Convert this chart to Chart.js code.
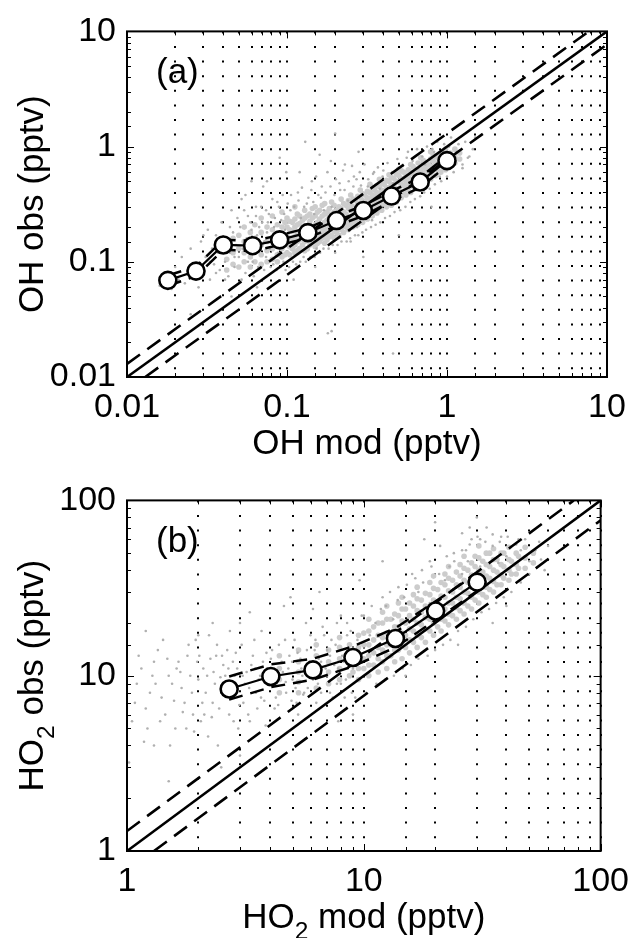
<!DOCTYPE html>
<html>
<head>
<meta charset="utf-8">
<script src="https://cdn.jsdelivr.net/npm/chart.js@4"></script>
<style>
  body { margin: 0; background: #fff; }
  canvas { display: block; }
</style>
</head>
<body>
<canvas id="ohChart" width="639" height="469"></canvas>
<canvas id="ho2Chart" width="639" height="469"></canvas>
<script>
// ---- panel (a): OH ----
const ohTicks = [0.01, 0.1, 1, 10];
const ohMod = [0.018, 0.027, 0.040, 0.061, 0.090, 0.135, 0.204, 0.30, 0.45, 0.68, 1.0];
const ohObs = [0.069, 0.083, 0.14, 0.138, 0.155, 0.179, 0.228, 0.279, 0.372, 0.493, 0.755];
const ohObsHi = [0.076, 0.091, 0.155, 0.152, 0.17, 0.197, 0.25, 0.307, 0.41, 0.54, 0.83];
const ohObsLo = [0.062, 0.075, 0.127, 0.124, 0.14, 0.161, 0.205, 0.251, 0.335, 0.444, 0.68];
const ohOneX = [0.01, 10];
const ohUpX = [0.01, 7.7], ohUpY = [0.013, 10];
const ohLoX = [0.013, 10], ohLoY = [0.01, 7.7];
// gray cloud: scattered points
const ohCloud = [
  [0.016,0.062],[0.017,0.075],[0.019,0.058],[0.02,0.09],[0.021,0.07],[0.022,0.11],[0.023,0.065],[0.024,0.085],
  [0.025,0.13],[0.026,0.072],[0.027,0.095],[0.028,0.06],[0.029,0.15],[0.03,0.08],[0.031,0.11],[0.032,0.19],
  [0.033,0.07],[0.034,0.13],[0.035,0.095],[0.036,0.17],[0.037,0.12],[0.038,0.085],[0.039,0.22],[0.04,0.14],
  [0.041,0.1],[0.042,0.16],[0.043,0.075],[0.044,0.12],[0.045,0.28],[0.046,0.18],[0.047,0.09],[0.048,0.14],
  [0.05,0.11],[0.051,0.2],[0.052,0.35],[0.053,0.13],[0.055,0.08],[0.056,0.16],[0.057,0.25],[0.058,0.12],
  [0.06,0.19],[0.061,0.1],[0.062,0.14],[0.064,0.3],[0.065,0.17],[0.066,0.09],[0.068,0.13],[0.07,0.22],
  [0.071,0.45],[0.072,0.15],[0.074,0.11],[0.075,0.18],[0.077,0.26],[0.078,0.13],[0.08,0.16],[0.082,0.095],
  [0.083,0.2],[0.085,0.14],[0.087,0.33],[0.088,0.12],[0.09,0.17],[0.092,0.23],[0.094,0.15],[0.095,0.1],
  [0.097,0.19],[0.099,0.6],[0.105,0.28],[0.117,0.4],[0.122,0.24],[0.127,0.11],[0.133,0.32],[0.143,0.5],
  [0.148,0.26],[0.153,0.13],[0.163,0.36],[0.17,0.28],[0.188,0.75],[0.19,0.3],[0.215,0.42],[0.24,0.34],
  [0.262,0.55],[0.274,0.2],[0.28,0.36],[0.32,0.45],[0.34,0.23],[0.38,0.43],[0.4,0.62],[0.46,0.48],
  [0.56,0.8],[0.6,0.4],[0.66,0.65],[0.7,0.42],[0.73,0.7],[0.83,0.9],[0.9,0.55],[1.03,1.0],[1.15,0.9],
  [1.3,1.1],[1.45,0.95],[1.25,0.7],[1.38,0.82],
  [0.13,1.1],[0.09,0.8],[0.2,1.3],[0.06,0.5],[0.3,0.11],[0.5,0.17],[0.8,0.3],[0.025,0.035],
  [0.18,0.024],[0.46,0.016],[0.19,0.025],[0.11,0.07],[0.15,0.09],[0.2,0.12],[0.25,0.15],[0.12,0.6],
  [0.16,0.85],[0.23,0.7],[0.28,0.9],[0.35,0.6],[0.075,0.5],[0.055,0.38],[0.045,0.05],[0.065,0.06],
  [0.03,0.17],[0.033,0.1],[0.036,0.08],[0.039,0.16],[0.041,0.07],[0.044,0.2],[0.047,0.11],[0.049,0.24],
  [0.052,0.07],[0.054,0.28],[0.057,0.1],[0.059,0.22],[0.062,0.075],[0.064,0.25],[0.067,0.2],[0.069,0.3],
  [0.072,0.085],[0.074,0.28],[0.076,0.22],[0.079,0.09],[0.081,0.35],[0.084,0.24],[0.086,0.085],[0.089,0.3],
  [0.091,0.09],[0.094,0.38],[0.096,0.26],[0.098,0.085],
  [0.101,0.32],[0.103,0.09],[0.106,0.38],[0.109,0.1],[0.111,0.3],[0.114,0.095],[0.118,0.34],[0.121,0.1],
  [0.124,0.44],[0.128,0.3],[0.131,0.1],[0.136,0.36],[0.14,0.11],[0.142,0.42],[0.146,0.33],[0.149,0.11],
  [0.152,0.55],[0.157,0.38],[0.161,0.12],[0.165,0.45],[0.169,0.13],[0.174,0.4],[0.179,0.6],[0.182,0.13],
  [0.187,0.45],[0.193,0.14],[0.198,0.38],[0.202,0.52],[0.207,0.14],[0.213,0.48],[0.219,0.15],[0.224,0.62],
  [0.229,0.42],[0.236,0.15],[0.243,0.5],[0.248,0.16],[0.255,0.68],[0.26,0.45],[0.266,0.17],[0.272,0.52],
  [0.279,0.17],[0.285,0.6],[0.29,0.46],[0.296,0.18],
  [0.305,0.7],[0.312,0.19],[0.322,0.52],[0.335,0.2],[0.345,0.58],[0.358,0.21],[0.37,0.66],[0.383,0.22],
  [0.396,0.55],[0.41,0.24],[0.425,0.72],[0.44,0.25],[0.455,0.6],[0.47,0.27],[0.49,0.78],[0.51,0.28],
  [0.53,0.68],[0.55,0.3],[0.57,0.9],[0.59,0.33],[0.61,0.75],[0.63,0.35],[0.65,0.95],[0.68,0.37],
  [0.7,0.82],[0.72,0.4],[0.75,1.0],[0.78,0.43],[0.81,0.95],[0.84,0.47],[0.87,1.1],[0.92,0.5],
  [0.96,1.05],[1.0,0.55],[1.06,1.2],[1.1,0.6],[1.18,1.05],[1.25,0.65],[1.35,0.8],[1.5,1.2]
];
// dense part of the cloud
const ohCore = [
  [0.042,0.085],[0.042,0.105],[0.042,0.13],[0.046,0.095],[0.046,0.12],[0.046,0.16],[0.05,0.09],[0.05,0.13],
  [0.05,0.17],[0.054,0.1],[0.054,0.12],[0.054,0.15],[0.054,0.2],[0.059,0.09],[0.059,0.11],[0.059,0.14],
  [0.059,0.18],[0.063,0.1],[0.063,0.125],[0.063,0.16],[0.063,0.21],[0.069,0.095],[0.069,0.115],[0.069,0.14],
  [0.069,0.18],[0.069,0.24],[0.075,0.1],[0.075,0.125],[0.075,0.15],[0.075,0.2],[0.081,0.105],[0.081,0.13],
  [0.081,0.16],[0.081,0.19],[0.081,0.25],[0.087,0.1],[0.087,0.115],[0.087,0.14],[0.087,0.17],[0.087,0.21],
  [0.093,0.11],[0.093,0.13],[0.093,0.16],[0.093,0.2],[0.093,0.27],[0.097,0.115],[0.097,0.14],[0.097,0.165],
  [0.097,0.22],
  [0.1,0.12],[0.1,0.145],[0.1,0.17],[0.1,0.2],[0.1,0.24],[0.104,0.115],[0.104,0.135],[0.104,0.16],
  [0.104,0.19],[0.104,0.225],[0.108,0.13],[0.108,0.155],[0.108,0.185],[0.108,0.22],[0.112,0.12],[0.112,0.14],
  [0.112,0.165],[0.112,0.2],[0.112,0.235],[0.112,0.3],[0.116,0.125],[0.116,0.15],[0.116,0.175],[0.116,0.21],
  [0.116,0.26],[0.12,0.13],[0.12,0.155],[0.12,0.18],[0.12,0.215],[0.12,0.25],[0.125,0.14],[0.125,0.165],
  [0.125,0.19],[0.125,0.23],[0.129,0.125],[0.129,0.15],[0.129,0.175],[0.129,0.205],[0.129,0.24],[0.129,0.28],
  [0.134,0.13],[0.134,0.155],[0.134,0.18],[0.134,0.205],[0.134,0.25],[0.139,0.14],[0.139,0.165],[0.139,0.19],
  [0.139,0.225],[0.139,0.26],[0.144,0.15],[0.144,0.175],[0.144,0.2],[0.144,0.24],[0.144,0.29],[0.15,0.135],
  [0.15,0.16],[0.15,0.185],[0.15,0.21],[0.15,0.25],[0.15,0.3],[0.155,0.145],[0.155,0.17],[0.155,0.195],
  [0.155,0.22],[0.155,0.27],[0.16,0.15],[0.16,0.175],[0.16,0.2],[0.16,0.235],[0.16,0.28],[0.166,0.16],
  [0.166,0.185],[0.166,0.21],[0.166,0.25],[0.166,0.31],[0.172,0.145],[0.172,0.17],[0.172,0.195],[0.172,0.22],
  [0.172,0.26],[0.172,0.32],[0.178,0.155],[0.178,0.18],[0.178,0.205],[0.178,0.23],[0.178,0.27],[0.184,0.165],
  [0.184,0.19],[0.184,0.215],[0.184,0.245],[0.184,0.29],[0.19,0.17],[0.19,0.195],[0.19,0.22],[0.19,0.26],
  [0.19,0.33],[0.197,0.16],[0.197,0.185],[0.197,0.205],[0.197,0.235],[0.197,0.27],[0.197,0.31],[0.204,0.18],
  [0.204,0.21],[0.204,0.24],[0.204,0.28],[0.211,0.17],[0.211,0.195],[0.211,0.225],[0.211,0.26],[0.211,0.3],
  [0.218,0.19],[0.218,0.22],[0.218,0.25],[0.218,0.29],[0.218,0.35],[0.226,0.18],[0.226,0.205],[0.226,0.235],
  [0.226,0.27],[0.226,0.32],[0.234,0.2],[0.234,0.23],[0.234,0.26],[0.234,0.31],[0.242,0.19],[0.242,0.215],
  [0.242,0.245],[0.242,0.29],[0.242,0.34],[0.25,0.21],[0.25,0.24],[0.25,0.28],[0.25,0.32],[0.25,0.38],
  [0.259,0.2],[0.259,0.23],[0.259,0.265],[0.259,0.3],[0.259,0.35],[0.268,0.22],[0.268,0.255],[0.268,0.29],
  [0.268,0.34],[0.277,0.21],[0.277,0.24],[0.277,0.275],[0.277,0.32],[0.277,0.37],[0.287,0.235],[0.287,0.27],
  [0.287,0.31],[0.287,0.36],[0.287,0.42],[0.297,0.22],[0.297,0.255],[0.297,0.29],[0.297,0.34],[0.297,0.39],
  [0.307,0.25],[0.307,0.29],[0.307,0.33],[0.307,0.38],[0.318,0.235],[0.318,0.27],[0.318,0.31],[0.318,0.36],
  [0.318,0.41],[0.33,0.26],[0.33,0.3],[0.33,0.35],[0.33,0.4],[0.33,0.47],[0.341,0.25],[0.341,0.285],
  [0.341,0.33],[0.341,0.38],[0.341,0.44],[0.353,0.28],[0.353,0.32],[0.353,0.37],[0.353,0.42],[0.365,0.265],
  [0.365,0.3],[0.365,0.345],[0.365,0.4],[0.365,0.46],[0.378,0.3],[0.378,0.34],[0.378,0.39],[0.378,0.45],
  [0.378,0.52],[0.391,0.28],[0.391,0.32],[0.391,0.365],[0.391,0.42],[0.391,0.48],[0.405,0.32],[0.405,0.36],
  [0.405,0.41],[0.405,0.47],[0.419,0.3],[0.419,0.34],[0.419,0.39],[0.419,0.44],[0.419,0.51],[0.434,0.33],
  [0.434,0.38],[0.434,0.44],[0.434,0.5],[0.434,0.57],[0.449,0.31],[0.449,0.355],[0.449,0.41],[0.449,0.47],
  [0.449,0.54],[0.465,0.35],[0.465,0.4],[0.465,0.46],[0.465,0.53],[0.482,0.33],[0.482,0.38],[0.482,0.43],
  [0.482,0.5],[0.482,0.58],[0.5,0.37],[0.5,0.43],[0.5,0.49],[0.5,0.56],[0.5,0.64],[0.517,0.36],[0.517,0.41],
  [0.517,0.47],[0.517,0.53],[0.517,0.62],[0.535,0.4],[0.535,0.46],[0.535,0.52],[0.535,0.6],[0.554,0.38],
  [0.554,0.44],[0.554,0.5],[0.554,0.57],[0.573,0.42],[0.573,0.48],[0.573,0.55],[0.573,0.63],[0.593,0.4],
  [0.593,0.46],[0.593,0.52],[0.593,0.6],[0.593,0.7],[0.614,0.45],[0.614,0.51],[0.614,0.58],[0.614,0.67],
  [0.636,0.43],[0.636,0.49],[0.636,0.56],[0.636,0.64],[0.66,0.48],[0.66,0.55],[0.66,0.62],[0.66,0.72],
  [0.685,0.46],[0.685,0.52],[0.685,0.6],[0.685,0.68],[0.685,0.8],[0.71,0.5],[0.71,0.58],[0.71,0.66],
  [0.71,0.76],[0.735,0.49],[0.735,0.56],[0.735,0.64],[0.735,0.72],[0.76,0.54],[0.76,0.62],[0.76,0.7],
  [0.79,0.52],[0.79,0.6],[0.79,0.68],[0.79,0.78],[0.79,0.9],[0.82,0.57],[0.82,0.66],[0.82,0.75],[0.82,0.85],
  [0.85,0.56],[0.85,0.64],[0.85,0.72],[0.85,0.82],[0.88,0.62],[0.88,0.7],[0.88,0.8],[0.915,0.6],[0.915,0.68],
  [0.915,0.76],[0.915,0.86],[0.95,0.66],[0.95,0.75],[0.95,0.88],[0.98,0.63],[0.98,0.72],[0.98,0.82],
  [0.98,0.95],[1.05,0.68],[1.05,0.78],[1.05,0.88],[1.12,0.72],[1.12,0.82],[1.12,0.95],[1.2,0.78],[1.2,0.88]
];

// ---- panel (b): HO2 ----
const ho2Ticks = [1, 10, 100];
const ho2Mod = [2.7, 4.05, 6.1, 9.0, 13.6, 20.1, 30.1];
const ho2Obs = [8.4, 9.9, 10.8, 12.7, 16.3, 23.4, 34.2];
const ho2ObsHi = [9.9, 11.6, 12.5, 14.7, 18.7, 26.6, 38.3];
const ho2ObsLo = [7.3, 8.6, 9.5, 11.3, 14.5, 20.8, 30.4];
const ho2OneX = [1, 100];
const ho2UpX = [1, 77], ho2UpY = [1.3, 100];
const ho2LoX = [1.3, 100], ho2LoY = [1, 77];
const ho2Cloud = [
  [1.1,9],[1.2,6.5],[1.3,12],[1.4,7.5],[1.5,10],[1.6,5],[1.7,8.5],[1.8,13],[1.9,6],[2.0,9.5],[2.1,11],
  [2.2,4.5],[2.3,7],[2.4,15],[2.5,8],[2.6,10],[2.7,6],[2.8,12],[2.9,8.8],[3.0,20],[3.1,7],[3.2,10.5],
  [3.3,5.5],[3.4,13],[3.5,8],[3.6,9.5],[3.7,18],[3.8,7.2],[3.9,11],[4.0,8.8],[4.1,14],[4.2,6.5],[4.3,10],
  [4.5,12],[4.6,25],[4.7,8],[4.8,11],[5.0,9.5],[5.1,16],[5.2,7],[5.4,12.5],[5.5,10],[5.7,20],[5.8,8.5],
  [6.0,11.5],[6.2,14],[6.4,9],[6.5,30],[6.6,12],[6.8,17],[7.0,10],[7.2,13],[7.4,7.5],[7.6,15],[7.8,11],
  [8.0,22],[8.2,12],[8.4,9.5],[8.6,14],[8.8,18],[9.0,11],[9.4,16],[9.6,35],[10.6,17],[11.2,20],
  [12.4,25],[13.3,21],[14.8,28],[17.6,40],[19,26],[22,35],[24,50],[26,38],[27.5,45],[28.5,60],[30,80],
  [31,42],[35,55],[37,44],[40,48],[46,52],[50,45],[55,58],
  [12,45],[15,10],[25,15],[40,25],[3,3.5],[9,6],[18,60],[2,17],[1.3,4],[28,70],[35,20],
  [1.05,5.5],[1.15,11],[1.25,8],[1.35,14],[1.45,6],[1.55,9],[1.65,12],[1.75,7],[1.85,10],[1.95,16],
  [2.05,5.5],[2.15,8],[2.25,12.5],[2.35,9],[2.45,6.5],[2.55,11.5],[2.65,14],[2.75,7.5],[2.85,10],[2.95,5],
  [3.15,9],[3.35,11.5],[3.55,6.5],[3.75,12],[3.95,9.5],[4.25,7.5],[4.55,10.5],[4.85,13],[5.15,8.5],
  [5.45,11],[5.75,14],[6.1,9.5],[6.45,12.5],[6.9,11],[7.3,16],[7.7,9],[8.1,13],[8.5,17],[8.9,8],
  [1.08,7],[1.18,4.2],[1.28,10],[1.38,5.5],[1.48,12.5],[1.58,7.2],[1.68,10.5],[1.78,5],[1.88,8],[1.98,12],
  [2.08,7],[2.18,10],[2.28,5.8],[2.38,13],[2.48,9.8],[2.58,7.8],[2.68,11],[2.78,9],[2.88,13.5],[2.98,6.8],
  [3.08,10],[3.28,8.5],[3.48,11],[3.68,7.5],[3.88,13.5],[4.08,10.5],[4.38,15],[4.68,9.2],[4.98,12],
  [5.28,6],[5.6,8],[5.95,17],[6.3,7],[6.7,19],[7.2,8],[7.7,20],[8.3,7.5],
  [14,32],[16,38],[19,45],[21,55],[23,42],[26,65],[27,52],[31,60],[33,70],[20,75],[17,30],[12,28],
  [10,22],[38,62],[45,60],
  [8.5,20],[9.2,7.5],[9.8,22],[10.2,8],[10.8,25],[11.3,9],[11.8,24],[12.3,9.5],[12.9,30],[13.4,10],
  [13.9,27],[14.6,11],[15.2,33],[15.8,11.5],[16.5,36],[17,12.5],[17.8,34],[18.6,13],[19.3,42],[20,14],
  [20.8,38],[21.6,15],[22.4,48],[23.2,16],[24.1,45],[25,18],[26,52],[27,19],[28,56],[29,21],[30.2,62],
  [31.4,23],[32.6,58],[33.8,24],[35,64],[36.2,26],[37.5,58],[39,28],[40.5,62],[42,30],[44,56],[46,34],
  [48,60],[50,38],[53,52],[56,46],[60,55],[58,40],
  [1.02,3.2],[1.12,13],[1.22,5],[1.32,9],[1.42,16],[1.52,4],[1.62,11],[1.72,6.2],[1.82,15],[1.92,4.8],
  [2.02,13],[2.12,6],[2.22,17],[2.32,10.5],[2.42,4],[2.52,13],[2.62,8.5],[2.72,18],[2.82,5.5],[2.92,11],
  [3.05,15],[3.25,6],[3.45,16],[3.65,10],[3.85,5.2],[4.05,12.5],[4.35,6.8],[4.65,16],[4.95,7.2],
  [5.25,13.5],[5.55,7.8],[5.9,12],[6.25,16],[6.6,8],[7,14],[7.5,11.5],[8,9],[8.6,12.5],[3.3,23],[4.9,28],
  [2.3,20],[6.1,24],[1.5,2.5],[2.5,3],[1.2,18],[7.8,5.5]
];
const ho2Core = [
  [4.4,8],[4.4,9.5],[4.4,11],[4.4,13],[5.3,8],[5.3,9.2],[5.3,10.5],[5.3,12],[5.3,14],[6.3,8.5],[6.3,10],
  [6.3,11.5],[6.3,13],[6.3,15],[7.1,9],[7.1,10.5],[7.1,12],[7.1,14],[7.9,9.5],[7.9,11],[7.9,12.5],
  [7.9,14.5],[7.9,16.5],[8.7,10],[8.7,11.5],[8.7,13],[8.7,15],
  [9,10.5],[9,12],[9,14],[9.5,9.5],[9.5,11],[9.5,12.5],[9.5,14.5],[9.5,17],[10,11],[10,12.5],[10,15],
  [10,17.5],[10.5,10],[10.5,11.5],[10.5,13],[10.5,15],[10.5,18],[10.5,21],[11,11.5],[11,13.5],[11,16],
  [11,19],[11.5,10.5],[11.5,12.5],[11.5,14.5],[11.5,17],[11.5,20],[12,12],[12,14],[12,16.5],[12,20],
  [12,23],[12.5,11],[12.5,13],[12.5,15],[12.5,17.5],[12.5,21],[12.5,25],[13,13],[13,15],[13,17.5],
  [13,21],[13.5,12],[13.5,14],[13.5,16],[13.5,19],[13.5,22.5],[14,14],[14,16],[14,19],[14,22],[14,26],
  [14.5,12.5],[14.5,15],[14.5,17.5],[14.5,20.5],[14.5,24],[14.5,28],[15,14.5],[15,17],[15,20],[15,24],
  [15.6,13.5],[15.6,16],[15.6,18.5],[15.6,22],[15.6,26],[16.2,15.5],[16.2,18],[16.2,21],[16.2,25],
  [16.2,29],[16.8,14.5],[16.8,17],[16.8,20],[16.8,23.5],[16.8,27.5],[16.8,32],[17.5,16.5],[17.5,19.5],
  [17.5,23],[17.5,27],[18.2,15.5],[18.2,18.5],[18.2,21.5],[18.2,25],[18.2,29.5],[19,18],[19,21],[19,25],
  [19,29],[19,34],[19.7,17],[19.7,20],[19.7,23],[19.7,27],[19.7,31.5],[19.7,37],[20.5,19],[20.5,22.5],
  [20.5,26.5],[20.5,31],[21.2,18],[21.2,21],[21.2,24.5],[21.2,28.5],[21.2,34],[22,20.5],[22,24],[22,28],
  [22,33],[22,38],[22.8,19.5],[22.8,22.5],[22.8,26],[22.8,30.5],[22.8,36],[22.8,42],[23.7,22],[23.7,26],
  [23.7,30],[23.7,35],[24.6,21],[24.6,24.5],[24.6,28],[24.6,33],[24.6,39],[25.5,23.5],[25.5,27.5],
  [25.5,32],[25.5,37],[25.5,43],[26.5,22.5],[26.5,26],[26.5,30],[26.5,35],[26.5,41],[26.5,48],[27.5,25],
  [27.5,29.5],[27.5,34],[27.5,40],[28.5,24],[28.5,28],[28.5,32],[28.5,37.5],[28.5,44],[29.5,27],
  [29.5,31.5],[29.5,36],[29.5,42],[29.5,48],[30.6,26],[30.6,30],[30.6,34.5],[30.6,40],[30.6,47],
  [30.6,55],[31.8,29],[31.8,34],[31.8,39],[31.8,45],[32.9,28],[32.9,32],[32.9,37],[32.9,43],[32.9,50],
  [34,31],[34,36],[34,42],[34,50],[35.3,30],[35.3,34.5],[35.3,40],[35.3,46],[35.3,53],[36.5,33],
  [36.5,39],[36.5,46],[38,33],[38,37.5],[38,43],[38,50],[39,36],[39,42],[39,50],[41,35],[41,40],[41,46],
  [41,54],[42,38],[42,45],[44,38],[44,43],[44,50],[45,41],[45,48],[48,41],[48,47],[48,54],[52,44],[52,50]
];

const FONT = "'Liberation Sans', Arial, Helvetica, sans-serif";
const TICK_FONT = 34, TITLE_FONT = 35;

function pts(xs, ys) { return xs.map((x, i) => ({ x: x, y: ys[i] })); }
function pairs(list) { return list.map(c => ({ x: c[0], y: c[1] })); }
function isMajor(v, list) { return list.some(t => Math.abs(Math.log10(v) - Math.log10(t)) < 1e-6); }

function drawParts(ctx, parts, cx, cy, rotate) {
  ctx.save();
  ctx.translate(cx, cy);
  if (rotate) ctx.rotate(-Math.PI / 2);
  ctx.textBaseline = 'middle';
  ctx.textAlign = 'left';
  ctx.fillStyle = '#000';
  let w = 0;
  parts.forEach(p => {
    ctx.font = (p.sub ? TITLE_FONT * 0.7 : TITLE_FONT) + 'px ' + FONT;
    w += ctx.measureText(p.t).width;
  });
  let x = -w / 2;
  parts.forEach(p => {
    ctx.font = (p.sub ? TITLE_FONT * 0.7 : TITLE_FONT) + 'px ' + FONT;
    ctx.fillText(p.t, x, p.sub ? TITLE_FONT * 0.4 : 0);
    x += ctx.measureText(p.t).width;
  });
  ctx.restore();
}

// box, inward ticks, titles and panel letter
const framePlugin = {
  id: 'frame',
  afterDraw(chart, args, o) {
    const { ctx, chartArea: a, scales } = chart;
    ctx.save();
    ctx.strokeStyle = '#000';
    ctx.lineWidth = 1;
    ctx.beginPath();
    scales.x.ticks.forEach(t => {
      const len = isMajor(t.value, o.ticks) ? 7 : 4;
      const px = Math.round(scales.x.getPixelForValue(t.value)) + 0.5;
      ctx.moveTo(px, a.bottom); ctx.lineTo(px, a.bottom - len);
      ctx.moveTo(px, a.top); ctx.lineTo(px, a.top + len);
    });
    scales.y.ticks.forEach(t => {
      const len = isMajor(t.value, o.ticks) ? 7 : 4;
      const py = Math.round(scales.y.getPixelForValue(t.value)) + 0.5;
      ctx.moveTo(a.left, py); ctx.lineTo(a.left + len, py);
      ctx.moveTo(a.right, py); ctx.lineTo(a.right - len, py);
    });
    ctx.stroke();
    ctx.lineWidth = 2;
    ctx.strokeRect(a.left, a.top, a.right - a.left, a.bottom - a.top);
    ctx.restore();

    drawParts(ctx, o.xTitle, (a.left + a.right) / 2, a.bottom + o.xTitleGap, false);
    drawParts(ctx, o.yTitle, o.yTitleX, (a.top + a.bottom) / 2, true);
    ctx.save();
    ctx.font = TITLE_FONT + 'px ' + FONT;
    ctx.fillStyle = '#000';
    ctx.textBaseline = 'middle';
    ctx.fillText(o.letter, a.left + 29, a.top + 42);
    ctx.restore();
  }
};

function makePanel(id, p) {
  const axis = (min, max, ticks, isX) => ({
    type: 'logarithmic',
    min: min, max: max,
    grid: { display: isX, color: '#000', lineWidth: 2, drawTicks: false },
    border: { display: false, dash: [2, 12.6] },
    ticks: {
      color: '#000',
      font: { family: FONT, size: TICK_FONT },
      padding: isX ? 10 : 11,
      autoSkip: false,
      maxRotation: 0,
      callback: v => isMajor(v, ticks) ? String(ticks.find(t => isMajor(v, [t]))) : ''
    },
    afterFit: s => { if (isX) s.height = p.xHeight; else s.width = 127; }
  });
  return new Chart(document.getElementById(id), {
    type: 'scatter',
    data: {
      datasets: [
        { data: pts(p.mod, p.obs), showLine: true, borderColor: '#000', borderWidth: 2.2,
          pointRadius: 8.5, pointBackgroundColor: '#fff', pointBorderColor: '#000', pointBorderWidth: 2.6 },
        { data: pts(p.mod, p.hi), showLine: true, borderColor: '#000', borderWidth: 2.5,
          borderDash: [14, 8], pointRadius: 0 },
        { data: pts(p.mod, p.lo), showLine: true, borderColor: '#000', borderWidth: 2.5,
          borderDash: [14, 8], pointRadius: 0 },
        { data: pts(p.oneX, p.oneX), showLine: true, borderColor: '#000', borderWidth: 2.6, pointRadius: 0 },
        { data: pts(p.upX, p.upY), showLine: true, borderColor: '#000', borderWidth: 2.6,
          borderDash: [16, 9], pointRadius: 0 },
        { data: pts(p.loX, p.loY), showLine: true, borderColor: '#000', borderWidth: 2.6,
          borderDash: [16, 9], pointRadius: 0 },
        { data: pairs(p.cloud), pointRadius: 1.3, pointBackgroundColor: '#b0b0b0', pointBorderWidth: 0 },
        { data: pairs(p.core), pointRadius: 2.8, pointBackgroundColor: '#cccccc', pointBorderWidth: 0 }
      ]
    },
    options: {
      responsive: false,
      animation: false,
      events: [],
      layout: { padding: { left: 0, right: 32, top: p.top, bottom: 0 } },
      plugins: { legend: { display: false }, tooltip: { enabled: false }, frame: p.frame },
      scales: {
        x: axis(p.xMin, p.xMax, p.ticks, true),
        y: axis(p.yMin, p.yMax, p.ticks, false)
      }
    },
    plugins: [framePlugin]
  });
}

makePanel('ohChart', {
  mod: ohMod, obs: ohObs, hi: ohObsHi, lo: ohObsLo, oneX: ohOneX,
  upX: ohUpX, upY: ohUpY, loX: ohLoX, loY: ohLoY, cloud: ohCloud, core: ohCore, ticks: ohTicks,
  xMin: 0.01, xMax: 10, yMin: 0.01, yMax: 10, top: 25, xHeight: 92,
  frame: {
    ticks: ohTicks, letter: '(a)', xTitleGap: 67, yTitleX: 33,
    xTitle: [{ t: 'OH mod (pptv)' }],
    yTitle: [{ t: 'OH obs (pptv)' }]
  }
});

makePanel('ho2Chart', {
  mod: ho2Mod, obs: ho2Obs, hi: ho2ObsHi, lo: ho2ObsLo, oneX: ho2OneX,
  upX: ho2UpX, upY: ho2UpY, loX: ho2LoX, loY: ho2LoY, cloud: ho2Cloud, core: ho2Core, ticks: ho2Ticks,
  xMin: 1, xMax: 100, yMin: 1, yMax: 100, top: 30, xHeight: 87,
  frame: {
    ticks: ho2Ticks, letter: '(b)', xTitleGap: 67, yTitleX: 33,
    xTitle: [{ t: 'HO' }, { t: '2', sub: true }, { t: ' mod (pptv)' }],
    yTitle: [{ t: 'HO' }, { t: '2', sub: true }, { t: ' obs (pptv)' }]
  }
});
</script>
</body>
</html>
